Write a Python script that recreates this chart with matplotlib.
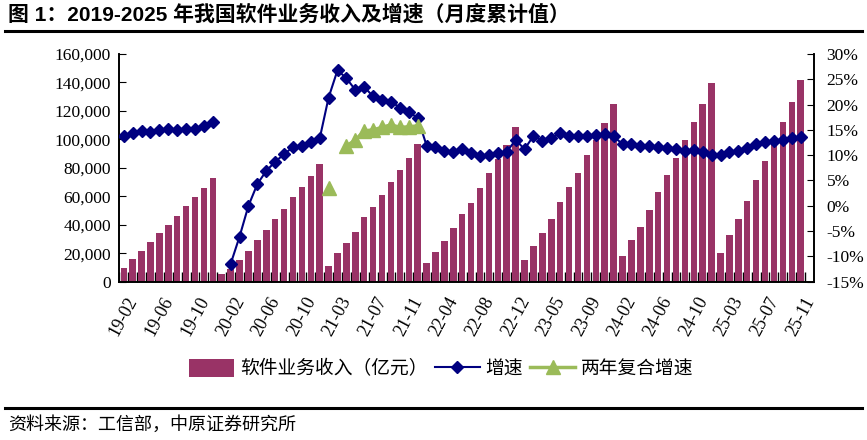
import matplotlib
matplotlib.use("Agg")
import matplotlib.pyplot as plt
import numpy as np
from matplotlib.ticker import FuncFormatter, MultipleLocator

nan = np.nan

# months per year (jan-feb reported together, 2020 has a placeholder for 01)
months = {
    19: [2, 3, 4, 5, 6, 7, 8, 9, 10, 11, 12],
    20: [1, 2, 3, 4, 5, 6, 7, 8, 9, 10, 11, 12],
    21: [2, 3, 4, 5, 6, 7, 8, 9, 10, 11, 12],
    22: [2, 3, 4, 5, 6, 7, 8, 9, 10, 11, 12],
    23: [2, 3, 4, 5, 6, 7, 8, 9, 10, 11, 12],
    24: [2, 3, 4, 5, 6, 7, 8, 9, 10, 11, 12],
    25: [2, 3, 4, 5, 6, 7, 8, 9, 10, 11],
}

# software revenue, cumulative (亿元)
rev_2019 = [9800, 15700, 21800, 27600, 34200, 39800, 46100, 53200, 59300, 66100, 72800]
rev_2020 = [5200, 9100, 15200, 21800, 29300, 36300, 43800, 51100, 59700, 66800, 74300, 82700]
rev_2021 = [11000, 20400, 26900, 35100, 45200, 52700, 60900, 70300, 78500, 86700, 96800]
rev_2022 = [12900, 21100, 28800, 37500, 47600, 55500, 65600, 76200, 86000, 96100, 108900]
rev_2023 = [15200, 25300, 34000, 44000, 56200, 66300, 76500, 88800, 99600, 111800, 124600]
rev_2024 = [18000, 29300, 38700, 50400, 63300, 75000, 86700, 99800, 112000, 124600, 139400]
rev_2025 = [20400, 32800, 43800, 56900, 71700, 84500, 98500, 112400, 126500, 141800]

# yoy growth (%)
g_2019 = [13.8, 14.4, 14.8, 14.6, 15.0, 15.1, 15.0, 15.2, 15.2, 15.8, 16.6]
g_2020 = [nan, -11.5, -6.1, 0.0, 4.3, 6.9, 8.7, 10.2, 11.6, 11.8, 12.6, 13.3]
g_2021 = [21.4, 26.8, 25.2, 22.9, 23.5, 21.6, 20.9, 20.6, 19.4, 18.5, 17.4]
g_2022 = [11.9, 11.7, 10.9, 10.7, 11.2, 10.4, 9.9, 10.0, 10.4, 10.7, 13.0]
g_2023 = [11.2, 13.8, 12.9, 13.3, 14.4, 13.8, 13.7, 13.7, 14.0, 14.2, 13.7]
g_2024 = [12.2, 12.2, 11.8, 11.8, 11.6, 11.4, 11.2, 10.9, 11.0, 10.7, 10.0]
g_2025 = [10.0, 10.7, 10.9, 11.4, 12.2, 12.6, 12.9, 13.1, 13.3, 13.5]

# two-year compound growth, only 2021
g2_2021 = [3.5, nan, 11.8, 13.0, 14.8, 15.0, 15.5, 16.0, 15.5, 15.6, 15.8]

labels = []
for y, ms in months.items():
    for m in ms:
        labels.append("%02d-%02d" % (y, m))

revenue = rev_2019 + rev_2020 + rev_2021 + rev_2022 + rev_2023 + rev_2024 + rev_2025
growth = g_2019 + g_2020 + g_2021 + g_2022 + g_2023 + g_2024 + g_2025
growth2 = [nan] * (len(rev_2019) + len(rev_2020)) + g2_2021
growth2 += [nan] * (len(labels) - len(growth2))

x = np.arange(len(labels))

BAR_C = "#993366"
LINE_C = "#000080"
TRI_C = "#9BBB59"
serif = "Liberation Serif"
cjk = ["Noto Sans CJK SC", "DejaVu Sans"]

fig = plt.figure(figsize=(8.67, 4.40), dpi=100)
ax = fig.add_axes([0.1376, 0.3598, 0.9389 - 0.1376, 0.8773 - 0.3598])
ax2 = ax.twinx()

bars = ax.bar(x, revenue, width=0.73, color=BAR_C, zorder=2)
l1, = ax2.plot(x, growth, color=LINE_C, lw=1.5, marker="D", ms=6.3, zorder=3)
l2, = ax2.plot(x, growth2, color=TRI_C, lw=2.5, marker="^", ms=10.5, mec=TRI_C, zorder=4)

ax.set_xlim(-0.5, len(labels) + 0.5)
ax.set_ylim(0, 160000)
ax2.set_ylim(-15, 30)
ax.yaxis.set_major_locator(MultipleLocator(20000))
ax2.yaxis.set_major_locator(MultipleLocator(5))
ax.yaxis.set_major_formatter(FuncFormatter(lambda v, p: "{:,.0f}".format(v)))
ax2.yaxis.set_major_formatter(FuncFormatter(lambda v, p: "%d%%" % v))

# tick at every category boundary, labels every 4th
ax.set_xticks(np.arange(len(labels) + 1) - 0.5, minor=True)
ax.set_xticks(x[::4])
ax.set_xticklabels(labels[::4], rotation=62, fontfamily=serif, fontsize=13)
ax.tick_params(axis="x", which="major", length=0, pad=9)
ax.tick_params(axis="x", which="minor", direction="in", length=7, width=1, color="black")
ax.tick_params(axis="y", direction="in", length=5, labelsize=12.5, pad=6)
ax2.tick_params(axis="y", direction="in", length=5, labelsize=12.5, pad=9)
for t in ax.get_yticklabels() + ax2.get_yticklabels():
    t.set_fontfamily(serif)

for a in (ax, ax2):
    a.spines["top"].set_visible(False)
    for s in ("left", "right", "bottom"):
        a.spines[s].set_linewidth(1.2)

# title and rules
fig.text(0.009, 0.968, "图 1：2019-2025 年我国软件业务收入及增速（月度累计值）",
         fontsize=15, fontweight="bold", family=["Liberation Sans", "Noto Sans CJK SC"],
         va="center", ha="left")
fig.add_artist(plt.Line2D([0.006, 0.994], [0.929, 0.929], color="black", lw=2.2))
fig.add_artist(plt.Line2D([0.006, 0.994], [0.073, 0.073], color="black", lw=2.2))
fig.text(0.009, 0.034, "资料来源：工信部，中原证券研究所", fontsize=13, family=cjk,
         va="center", ha="left")

fig.legend([bars, l1, l2], ["软件业务收入（亿元）", "增速", "两年复合增速"],
           loc="center", bbox_to_anchor=(0.509, 0.161), ncol=3, frameon=False,
           prop={"family": cjk, "size": 13.5}, handlelength=2.4, handleheight=1.1,
           handletextpad=0.3, columnspacing=0.4, borderaxespad=0)

fig.savefig("out.png", dpi=100)
